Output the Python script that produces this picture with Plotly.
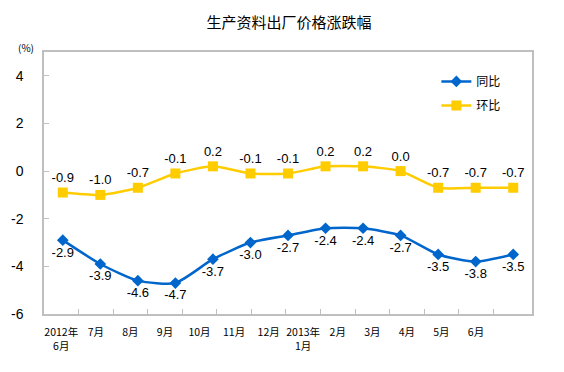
import plotly.graph_objects as go

categories = ["2012年<br>6月", "7月", "8月", "9月", "10月", "11月", "12月",
              "2013年<br>1月", "2月", "3月", "4月", "5月", "6月"]
yoy = [-2.9, -3.9, -4.6, -4.7, -3.7, -3.0, -2.7, -2.4, -2.4, -2.7, -3.5, -3.8, -3.5]
mom = [-0.9, -1.0, -0.7, -0.1, 0.2, -0.1, -0.1, 0.2, 0.2, 0.0, -0.7, -0.7, -0.7]
y_ticks = [-6, -4, -2, 0, 2, 4]

BLUE = "#0066CC"
YELLOW = "#FFCC00"
GRID = "#BFBFBF"
num_font = dict(family="Arial, Liberation Sans, sans-serif", size=13, color="#000000")
cjk = "Noto Sans CJK SC, sans-serif"

n = len(categories)
idx = list(range(n))
# the category-label band in the original spans a slightly narrower width than the points
LABEL_SCALE = 449 / 487.7
label_pos = [(i + 0.5) * LABEL_SCALE - 0.5 for i in idx]
tick_pos = [(i + 1) * LABEL_SCALE - 0.5 for i in idx]

W, H = 556, 356  # page body has an 8px margin

fig = go.Figure()
fig.add_trace(go.Scatter(
    x=idx, y=yoy, name="同比", legendgroup="a", mode="lines+markers+text",
    line=dict(color=BLUE, width=2.5, shape="spline", smoothing=0.6),
    marker=dict(symbol="diamond", size=9, color=BLUE),
    text=[f"{v:.1f}" for v in yoy], textposition="bottom center",
    textfont=num_font, cliponaxis=False,
))
fig.add_trace(go.Scatter(
    x=idx, y=mom, name="环比", legendgroup="b", mode="lines+markers+text",
    line=dict(color=YELLOW, width=2.5, shape="spline", smoothing=0.6),
    marker=dict(symbol="square", size=10, color=YELLOW),
    text=[f"{v:.1f}" for v in mom], textposition="top center",
    textfont=num_font, cliponaxis=False,
))

fig.update_layout(
    width=W, height=H,
    margin=dict(l=36, r=32, t=44, b=50),
    paper_bgcolor="white", plot_bgcolor="white",
    showlegend=True,
    legend=dict(x=0.804, y=0.943, xanchor="left", yanchor="top",
                font=dict(family=cjk, size=12, color="#000000"),
                bgcolor="rgba(0,0,0,0)", tracegroupgap=5, itemwidth=30),
    title=dict(text="生产资料出厂价格涨跌幅", x=281 / W, xanchor="center",
               y=1 - 15 / H, yanchor="middle",
               font=dict(family=cjk, size=15, color="#000000")),
    xaxis=dict(type="linear", range=[-0.5, n - 0.5], showgrid=False, zeroline=False,
               automargin=False,
               showline=True, linecolor=GRID, linewidth=1.5, mirror=True,
               tickmode="array", tickvals=label_pos, ticktext=categories,
               ticks="", ticklabelstandoff=8,
               tickfont=dict(family=cjk, size=10.5, color="#000000"),
               minor=dict(tickmode="array", tickvals=tick_pos,
                          ticks="inside", ticklen=5, tickcolor=GRID, tickwidth=1, showgrid=False)),
    yaxis=dict(range=[-6, 5], tickmode="array", tickvals=y_ticks,
               ticktext=[str(v) for v in y_ticks],
               showgrid=False, zeroline=False, automargin=False,
               showline=True, linecolor=GRID, linewidth=1.5, mirror=True,
               ticks="inside", ticklen=5, tickcolor=GRID, ticklabelstandoff=16,
               tickfont=dict(family="Arial, Liberation Sans, sans-serif", size=14, color="#000000")),
)

fig.add_annotation(text="(%)", xref="paper", yref="paper", x=-18 / 487.7, y=(306 - 39) / 262,
                   showarrow=False, xanchor="center", yanchor="middle",
                   font=dict(family=cjk, size=10, color="#000000"))

fig.write_html("out.html")
